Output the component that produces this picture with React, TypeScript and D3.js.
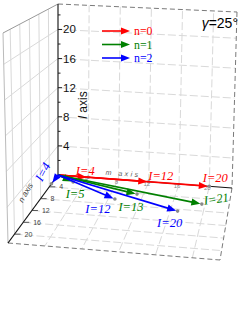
import React from 'react';
import * as d3 from 'd3';

const W = 245;
const H = 322;

// axis ranges
const mMax = 23;
const nMax = 23;
const lMax = 23.5;
const gridTicks = [4, 8, 12, 16, 20];
const lMinorTicks = [2, 6, 10, 14, 18, 22];

// legend
const seriesNames = ['n=0', 'n=1', 'n=2'];
const seriesColors = ['#ff0000', '#008000', '#0000ff'];

// points on the floor (l = 0), given as m / n coordinates
const redI = [4, 12, 20];
const redM = [4, 12, 20];
const redN = [0, 0, 0];
const greenI = [5, 13, 21];
const greenM = [2.5, 11.2, 19.6];
const greenN = [1.9, 4.2, 5.8];
const blueI = [4, 12, 20];
const blueM = [0, 8.8, 16.9];
const blueN = [3.0, 6.3, 8.6];

// label offsets (px) from the projected point, and rotation
const redLab = [[-3, -2, 0], [12, -2, 0], [6, -4, 0]];
const greenLab = [[2, 16, 0], [-6, 17, 0], [15, -1, -8]];
const blueLab = [[-5, -10, -62], [-17, 14, 0], [-8, 16, 0]];

// screen corners of the box (o = origin, m/n/l = far ends)
const C: Record<string, number[]> = {
  o: [58, 175], m: [232, 188], n: [8, 243], mn: [220, 260],
  l: [58, 4], ml: [237, 12], nl: [3, 33], mnl: [226, 80],
};

const us = d3.scaleLinear().domain([0, mMax]).range([0, 1]);
const vs = d3.scaleLinear().domain([0, nMax]).range([0, 1]);
const ws = d3.scaleLinear().domain([0, lMax]).range([0, 1]);

function project(m: number, n: number, l: number): [number, number] {
  const u = us(m), v = vs(n), w = ws(l);
  const k = (a: string, b: string, c: string, d: string, i: number) =>
    (C[a][i] * (1 - u) * (1 - v) + C[b][i] * u * (1 - v) + C[c][i] * (1 - u) * v + C[d][i] * u * v);
  const res: [number, number] = [0, 0];
  for (let i = 0; i < 2; i++) {
    res[i] = k('o', 'm', 'n', 'mn', i) * (1 - w) + k('l', 'ml', 'nl', 'mnl', i) * w;
  }
  return res;
}

const seg = (a: [number, number], b: [number, number]) => `M${a[0]},${a[1]}L${b[0]},${b[1]}`;

function Arrow({ from, to, color, back = 1.5 }: any) {
  const dx = to[0] - from[0], dy = to[1] - from[1];
  const len = Math.hypot(dx, dy) || 1;
  const ux = dx / len, uy = dy / len;
  const tip: [number, number] = [to[0] - ux * back, to[1] - uy * back];
  const hl = 9, hw = 3.6;
  const bx = tip[0] - ux * hl, by = tip[1] - uy * hl;
  const tri = `M${tip[0]},${tip[1]}L${bx - uy * hw},${by + ux * hw}L${bx + uy * hw},${by - ux * hw}Z`;
  return (
    <g>
      <path d={seg(from, [bx + ux * 2, by + uy * 2])} stroke={color} strokeWidth={1.6} fill="none" />
      <path d={tri} fill={color} />
    </g>
  );
}

export default function App() {
  const grid = '#d9d9d9';
  const edge = '#7a7a7a';
  const serif = '"Liberation Serif", "Times New Roman", serif';
  const sans = '"Liberation Sans", Arial, sans-serif';
  const O = project(0, 0, 0);

  const series = [
    { I: redI, M: redM, N: redN, lab: redLab },
    { I: greenI, M: greenM, N: greenN, lab: greenLab },
    { I: blueI, M: blueM, N: blueN, lab: blueLab },
  ];

  return (
    <svg width={W} height={H} style={{ position: 'absolute', left: 0, top: 0, background: '#fff' }}>
      {/* back wall grid (n = 0) */}
      {gridTicks.map((t) => (
        <path key={'bw-m' + t} d={seg(project(t, 0, 0), project(t, 0, lMax))} stroke={grid} strokeDasharray="8,3" />
      ))}
      {gridTicks.map((t) => (
        <path key={'bw-l' + t} d={seg(project(0, 0, t), project(mMax, 0, t))} stroke={grid} strokeDasharray="8,3" />
      ))}
      {/* left wall grid (m = 0) */}
      {gridTicks.map((t) => (
        <path key={'lw-n' + t} d={seg(project(0, t, 0), project(0, t, lMax))} stroke={grid} />
      ))}
      {gridTicks.map((t) => (
        <path key={'lw-l' + t} d={seg(project(0, 0, t), project(0, nMax, t))} stroke={grid} />
      ))}
      {/* floor grid (l = 0) */}
      {gridTicks.map((t) => (
        <path key={'fl-m' + t} d={seg(project(t, 0, 0), project(t, nMax, 0))} stroke={grid} strokeDasharray="8,3" />
      ))}
      {gridTicks.map((t) => (
        <path key={'fl-n' + t} d={seg(project(0, t, 0), project(mMax, t, 0))} stroke={grid} strokeDasharray="8,3" />
      ))}

      {/* box edges */}
      <path d={seg(project(0, 0, lMax), project(mMax, 0, lMax))} stroke={edge} strokeDasharray="5,3" />
      <path d={seg(project(mMax, 0, lMax), project(mMax, 0, 0))} stroke={edge} strokeDasharray="5,3" />
      <path d={seg(project(mMax, 0, 0), project(mMax, nMax, 0))} stroke={edge} strokeDasharray="5,3" />
      <path d={seg(project(0, nMax, 0), project(mMax, nMax, 0))} stroke={edge} strokeDasharray="5,3" />
      <path d={seg(project(0, 0, lMax), project(0, nMax, lMax))} stroke="#999" />
      <path d={seg(project(0, nMax, lMax), project(0, nMax, 0))} stroke="#bbb" />

      {/* axes */}
      <path d={seg(O, project(0, 0, lMax))} stroke="#222" strokeWidth={1.2} />
      <path d={seg(O, project(mMax, 0, 0))} stroke="#111" strokeWidth={1} />
      <path d={seg(O, project(0, nMax, 0))} stroke="#111" strokeWidth={1.2} />

      {/* l axis ticks */}
      {gridTicks.map((t) => {
        const p = project(0, 0, t);
        return (
          <g key={'lt' + t}>
            <path d={seg(p, [p[0] + 4, p[1]])} stroke="#222" />
            <text x={p[0] + 5} y={p[1] + 4} fontSize={11.5} fontFamily={sans} fill="#111">{t}</text>
          </g>
        );
      })}
      {lMinorTicks.map((t) => {
        const p = project(0, 0, t);
        return <path key={'lm' + t} d={seg(p, [p[0] + 2.5, p[1]])} stroke="#222" />;
      })}
      <text transform="translate(87,105) rotate(-90)" textAnchor="middle" fontSize={12} fontFamily={sans} fill="#111">
        <tspan fontStyle="italic">l</tspan> axis
      </text>

      {/* n axis ticks */}
      {gridTicks.map((t) => {
        const p = project(0, t, 0);
        return (
          <g key={'nt' + t}>
            <path d={seg(p, [p[0] + 6, p[1]])} stroke="#333" strokeWidth={0.8} />
            <text x={p[0] + 10} y={p[1] + 2.5} fontSize={7} fontFamily={sans} fill="#444">{t}</text>
          </g>
        );
      })}
      <text transform="translate(28,194) rotate(-60)" textAnchor="middle" fontSize={8} fontStyle="italic" fontFamily={sans} fill="#444">n axis</text>

      {/* m axis tick labels + title */}
      {gridTicks.map((t) => {
        const p = project(t, 0, 0);
        return <text key={'mt' + t} x={p[0] - 2} y={p[1] + 4} textAnchor="middle" fontSize={6} fontFamily={sans} fill="#888">{t}</text>;
      })}
      <text transform="translate(123,176) rotate(4)" textAnchor="middle" fontSize={7} fontStyle="italic" letterSpacing={2.5} fontFamily={sans} fill="#555">m axis</text>

      {/* vectors */}
      {series.map((s, si) => s.I.map((iv, k) => {
        const p = project(s.M[k], s.N[k], 0);
        return <circle key={'pt' + si + k} cx={p[0]} cy={p[1]} r={1.8} fill="#8a8a8a" />;
      }))}
      {series.map((s, si) => s.I.map((iv, k) => {
        const p = project(s.M[k], s.N[k], 0);
        return <Arrow key={'ar' + si + k} from={O} to={p} color={seriesColors[si]} />;
      }))}
      {series.map((s, si) => s.I.map((iv, k) => {
        const p = project(s.M[k], s.N[k], 0);
        const [dx, dy, rot] = s.lab[k];
        return (
          <text key={'lb' + si + k} transform={`translate(${p[0] + dx},${p[1] + dy}) rotate(${rot})`}
            textAnchor="middle" fontSize={12.5} fontStyle="italic" fontFamily={serif} fill={seriesColors[si]}>
            {'I=' + iv}
          </text>
        );
      }))}

      {/* legend */}
      {seriesNames.map((name, i) => {
        const y = 31 + i * 13.5;
        return (
          <g key={'lg' + i}>
            <Arrow from={[102, y]} to={[130, y]} color={seriesColors[i]} back={0} />
            <text x={134} y={y + 4.2} fontSize={11.8} fontFamily={serif} fill={seriesColors[i]}>{name}</text>
          </g>
        );
      })}

      <text x={238} y={28} textAnchor="end" fontSize={14} fontFamily={sans} fill="#000">
        <tspan fontStyle="italic">γ</tspan>=25°
      </text>
    </svg>
  );
}
